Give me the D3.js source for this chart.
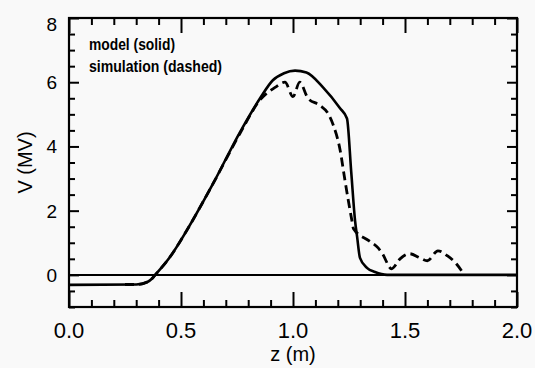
<!DOCTYPE html>
<html>
<head>
<meta charset="utf-8">
<script src="https://cdn.jsdelivr.net/npm/d3@7"></script>
<style>
  html, body { margin: 0; padding: 0; background: #f9f9f9; }
  svg { display: block; font-family: "Liberation Sans", Arial, sans-serif; }
</style>
</head>
<body>
<div id="chart"></div>
<script>
// model curve (solid)
const modelZ = [0, 0.30, 0.35, 0.37, 0.385, 0.45, 0.527, 0.643, 0.763, 0.853, 0.91, 0.96, 1.009, 1.06, 1.134, 1.21, 1.241, 1.26, 1.277, 1.286, 1.299, 1.33, 1.366, 1.42, 2.0];
const modelV = [-0.31, -0.30, -0.22, -0.12, 0, 0.55, 1.4, 2.84, 4.44, 5.5, 6.06, 6.28, 6.36, 6.3, 5.84, 5.19, 4.87, 3.2, 1.69, 1.2, 0.53, 0.22, 0.09, 0, 0];

// simulation curve (dashed)
const simZ = [0.25, 0.30, 0.35, 0.37, 0.385, 0.45, 0.527, 0.643, 0.763, 0.853, 0.92, 0.964, 1.0, 1.03, 1.067, 1.12, 1.156, 1.18, 1.21, 1.232, 1.263, 1.27, 1.34, 1.38, 1.40, 1.44, 1.478, 1.52, 1.567, 1.60, 1.647, 1.69, 1.73, 1.76];
const simV = [-0.30, -0.30, -0.22, -0.12, 0, 0.55, 1.4, 2.84, 4.4, 5.45, 5.84, 6.0, 5.55, 6.0, 5.5, 5.28, 5.03, 4.66, 3.9, 2.94, 1.69, 1.44, 1.06, 0.84, 0.65, 0.19, 0.5, 0.66, 0.53, 0.44, 0.75, 0.59, 0.34, 0.05];

const xMajor = [0.0, 0.5, 1.0, 1.5, 2.0];
const yMajor = [0, 2, 4, 6, 8];
const legendLines = ['model (solid)', 'simulation (dashed)'];

const width = 535, height = 368;
const margin = { top: 18, right: 18, bottom: 61, left: 69 };
const w = width - margin.left - margin.right;
const h = height - margin.top - margin.bottom;

const x = d3.scaleLinear().domain([0, 2]).range([0, w]);
const y = d3.scaleLinear().domain([-1, 8]).range([h, 0]);

const svg = d3.select('#chart').append('svg')
  .attr('width', width)
  .attr('height', height)
  .append('g')
  .attr('transform', 'translate(' + margin.left + ',' + margin.top + ')');

const xMinor = d3.range(0, 2.001, 0.1).filter(v => Math.abs(v * 2 - Math.round(v * 2)) > 1e-6);
const yMinor = d3.range(-1, 8.001, 0.5).filter(v => Math.abs(v / 2 - Math.round(v / 2)) > 1e-6);

// inward ticks on all four sides
function ticks(axis, vals, size) {
  return axis.tickValues(vals).tickSize(-size).tickFormat('');
}
const axisStyle = g => {
  g.select('.domain').remove();
  g.selectAll('line').attr('stroke', '#000').attr('stroke-width', 2);
};
svg.append('g').attr('transform', 'translate(0,' + h + ')').call(ticks(d3.axisBottom(x), xMinor, 7)).call(axisStyle);
svg.append('g').attr('transform', 'translate(0,' + h + ')').call(ticks(d3.axisBottom(x), xMajor, 15)).call(axisStyle);
svg.append('g').call(ticks(d3.axisTop(x), xMinor, 7)).call(axisStyle);
svg.append('g').call(ticks(d3.axisTop(x), xMajor, 15)).call(axisStyle);
svg.append('g').call(ticks(d3.axisLeft(y), yMinor, 6)).call(axisStyle);
svg.append('g').call(ticks(d3.axisLeft(y), yMajor, 10)).call(axisStyle);
svg.append('g').attr('transform', 'translate(' + w + ',0)').call(ticks(d3.axisRight(y), yMinor, 6)).call(axisStyle);
svg.append('g').attr('transform', 'translate(' + w + ',0)').call(ticks(d3.axisRight(y), yMajor, 10)).call(axisStyle);

// tick labels
svg.append('g').selectAll('text').data(xMajor).join('text')
  .attr('x', d => x(d))
  .attr('y', h + 31)
  .attr('text-anchor', 'middle')
  .attr('font-size', 22)
  .text(d => d.toFixed(1));
svg.append('g').selectAll('text').data(yMajor).join('text')
  .attr('x', -12)
  .attr('y', d => y(d) + (d === 8 ? 13 : 7))
  .attr('text-anchor', 'end')
  .attr('font-size', 19)
  .text(d => d);

// axis titles
svg.append('text')
  .attr('x', x(1.0))
  .attr('y', h + 54)
  .attr('text-anchor', 'middle')
  .attr('font-size', 20)
  .text('z (m)');
svg.append('text')
  .attr('transform', 'translate(' + (-37) + ',' + (h / 2) + ') rotate(-90)')
  .attr('text-anchor', 'middle')
  .attr('font-size', 20)
  .text('V (MV)');

// zero line
svg.append('line')
  .attr('x1', 0).attr('x2', w)
  .attr('y1', y(0)).attr('y2', y(0))
  .attr('stroke', '#000').attr('stroke-width', 2);

const line = d3.line()
  .x(d => x(d[0]))
  .y(d => y(d[1]))
  .curve(d3.curveMonotoneX);

svg.append('path')
  .datum(d3.zip(modelZ, modelV))
  .attr('fill', 'none')
  .attr('stroke', '#000')
  .attr('stroke-width', 2.6)
  .attr('d', line);

svg.append('path')
  .datum(d3.zip(simZ, simV))
  .attr('fill', 'none')
  .attr('stroke', '#000')
  .attr('stroke-width', 2.8)
  .attr('stroke-dasharray', '9,5')
  .attr('d', line);

// frame
svg.append('rect')
  .attr('width', w).attr('height', h)
  .attr('fill', 'none')
  .attr('stroke', '#000')
  .attr('stroke-width', 2.2);

// legend text
svg.append('g').selectAll('text').data(legendLines).join('text')
  .attr('x', 20)
  .attr('y', (d, i) => 32 + i * 22)
  .attr('font-size', 16)
  .attr('font-weight', 'bold')
  .attr('textLength', (d, i) => i === 0 ? 86 : 133)
  .attr('lengthAdjust', 'spacingAndGlyphs')
  .text(d => d);
</script>
</body>
</html>
